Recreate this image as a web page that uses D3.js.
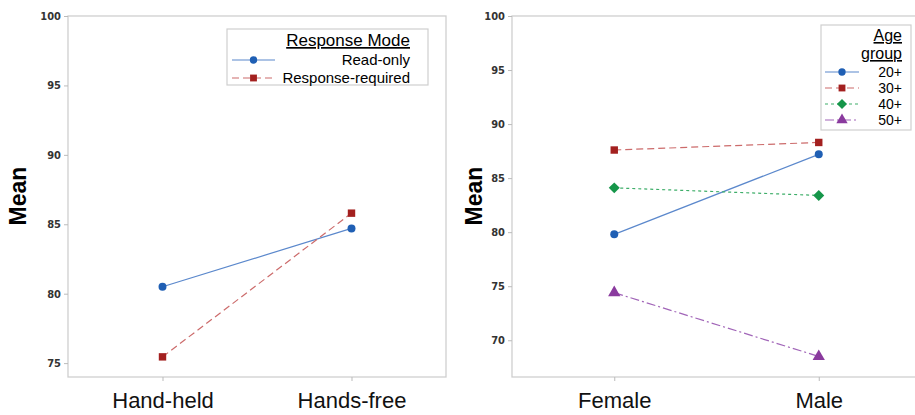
<!DOCTYPE html>
<html>
<head>
<meta charset="utf-8">
<script src="https://cdn.jsdelivr.net/npm/d3@7"></script>
<style>
  body { margin: 0; background: #fff; }
  svg { font-family: "Liberation Sans", Arial, sans-serif; }
</style>
</head>
<body>
<div id="chart"></div>
<script>
// left panel data
var modeCats = ["Hand-held", "Hands-free"];
var readOnly = [80.5, 84.7];
var responseRequired = [75.45, 85.8];
var modeNames = ["Read-only", "Response-required"];
var modeTicks = [75, 80, 85, 90, 95, 100];

// right panel data
var genderCats = ["Female", "Male"];
var age20 = [79.8, 87.2];
var age30 = [87.6, 88.3];
var age40 = [84.1, 83.4];
var age50 = [74.4, 68.5];
var ageNames = ["20+", "30+", "40+", "50+"];
var ageTicks = [70, 75, 80, 85, 90, 95, 100];

var svg = d3.select("#chart")
  .append("svg")
    .attr("width", 915)
    .attr("height", 415);

// diamond = square turned 45 degrees
var squareDiamond = {
  draw: function(ctx, size) {
    var r = Math.sqrt(size / 2);
    ctx.moveTo(0, -r); ctx.lineTo(r, 0); ctx.lineTo(0, r); ctx.lineTo(-r, 0); ctx.closePath();
  }
};

var styles = {
  blue:   {line: "#5b88cc", fill: "#1f5fb4", dash: null,      shape: d3.symbolCircle,   size: 50},
  red:    {line: "#cc6b6b", fill: "#a3201f", dash: "7,4",     shape: d3.symbolSquare,   size: 55},
  green:  {line: "#3fae6a", fill: "#16964a", dash: "3,3",     shape: squareDiamond,     size: 60},
  purple: {line: "#a165b8", fill: "#8a3a9e", dash: "9,3,2,3", shape: d3.symbolTriangle, size: 65}
};

function panel(opt) {
  var g = svg.append("g");
  var x = d3.scalePoint().domain(opt.cats).range([opt.x0, opt.x1]).padding(0.5);
  var y = d3.scaleLinear().domain(opt.yDomain).range([377, 16]);

  // frame
  g.append("rect")
    .attr("x", opt.x0).attr("y", 16)
    .attr("width", opt.x1 - opt.x0).attr("height", 361)
    .attr("fill", "none").attr("stroke", "#cfcfcf").attr("stroke-width", 1.3);

  var ya = g.append("g")
    .attr("transform", "translate(" + opt.x0 + ",0)")
    .call(d3.axisLeft(y).tickValues(opt.ticks).tickSize(4).tickPadding(3));
  ya.select(".domain").remove();
  ya.selectAll("line").attr("stroke", "#bbb");
  ya.selectAll("text").style("font-size", "11px").style("font-weight", "bold")
    .attr("fill", "#333").attr("font-family", "'DejaVu Sans Condensed', 'DejaVu Sans', sans-serif");

  var xa = g.append("g")
    .attr("transform", "translate(0,377)")
    .call(d3.axisBottom(x).tickSize(4).tickPadding(8));
  xa.select(".domain").remove();
  xa.selectAll("line").attr("stroke", "#bbb");
  xa.selectAll("text").style("font-size", "22px").attr("fill", "#111").attr("dy", "0.85em");

  g.append("text")
    .attr("transform", "translate(" + opt.labelX + ",196)rotate(-90)")
    .attr("text-anchor", "middle")
    .style("font-size", "23px").style("font-weight", "bold")
    .text("Mean");

  var line = d3.line()
    .x(function(d, i) { return x(opt.cats[i]); })
    .y(function(d) { return y(d); });

  opt.series.forEach(function(s) {
    var st = styles[s.style];
    g.append("path")
      .datum(s.values)
      .attr("d", line)
      .attr("fill", "none")
      .attr("stroke", st.line)
      .attr("stroke-width", 1.2)
      .attr("stroke-dasharray", st.dash);
    g.selectAll(null)
      .data(s.values)
      .enter()
      .append("path")
        .attr("transform", function(d, i) { return "translate(" + x(opt.cats[i]) + "," + y(d) + ")"; })
        .attr("d", d3.symbol().type(st.shape).size(st.size))
        .attr("fill", st.fill);
  });
  return g;
}

var left = panel({
  cats: modeCats, x0: 68, x1: 446, yDomain: [74, 100], ticks: modeTicks, labelX: 26,
  series: [
    {name: modeNames[0], values: readOnly, style: "blue"},
    {name: modeNames[1], values: responseRequired, style: "red"}
  ]
});

var right = panel({
  cats: genderCats, x0: 512, x1: 921, yDomain: [66.6, 100], ticks: ageTicks, labelX: 482,
  series: [
    {name: ageNames[0], values: age20, style: "blue"},
    {name: ageNames[1], values: age30, style: "red"},
    {name: ageNames[2], values: age40, style: "green"},
    {name: ageNames[3], values: age50, style: "purple"}
  ]
});

function legendRow(g, st, xa, xb, yy, label, tx, fs) {
  g.append("line").attr("x1", xa).attr("x2", xb).attr("y1", yy).attr("y2", yy)
    .attr("stroke", st.line).attr("stroke-width", 1.2).attr("stroke-dasharray", st.dash);
  g.append("path")
    .attr("transform", "translate(" + ((xa + xb) / 2) + "," + yy + ")")
    .attr("d", d3.symbol().type(st.shape).size(st.size * 0.85))
    .attr("fill", st.fill);
  g.append("text").attr("x", tx).attr("y", yy + 5).attr("text-anchor", "end")
    .style("font-size", fs).text(label);
}

// left legend
var lg = svg.append("g");
lg.append("rect").attr("x", 227).attr("y", 29).attr("width", 201).attr("height", 56)
  .attr("fill", "#fff").attr("stroke", "#cfcfcf").attr("stroke-width", 1.2);
lg.append("text").attr("x", 410).attr("y", 46).attr("text-anchor", "end")
  .style("font-size", "17px").style("text-decoration", "underline").text("Response Mode");
legendRow(lg, styles.blue, 232, 275, 60, modeNames[0], 410, "15px");
legendRow(lg, styles.red, 232, 275, 78, modeNames[1], 410, "15px");

// right legend
var rg = svg.append("g");
rg.append("rect").attr("x", 821).attr("y", 25).attr("width", 90).attr("height", 105)
  .attr("fill", "#fff").attr("stroke", "#cfcfcf").attr("stroke-width", 1.2);
rg.append("text").attr("x", 902).attr("y", 41).attr("text-anchor", "end")
  .style("font-size", "16px").style("text-decoration", "underline").text("Age");
rg.append("text").attr("x", 902).attr("y", 59).attr("text-anchor", "end")
  .style("font-size", "16px").style("text-decoration", "underline").text("group");
["blue", "red", "green", "purple"].forEach(function(k, i) {
  legendRow(rg, styles[k], 825, 859, 72 + i * 16, ageNames[i], 902, "14px");
});
</script>
</body>
</html>
